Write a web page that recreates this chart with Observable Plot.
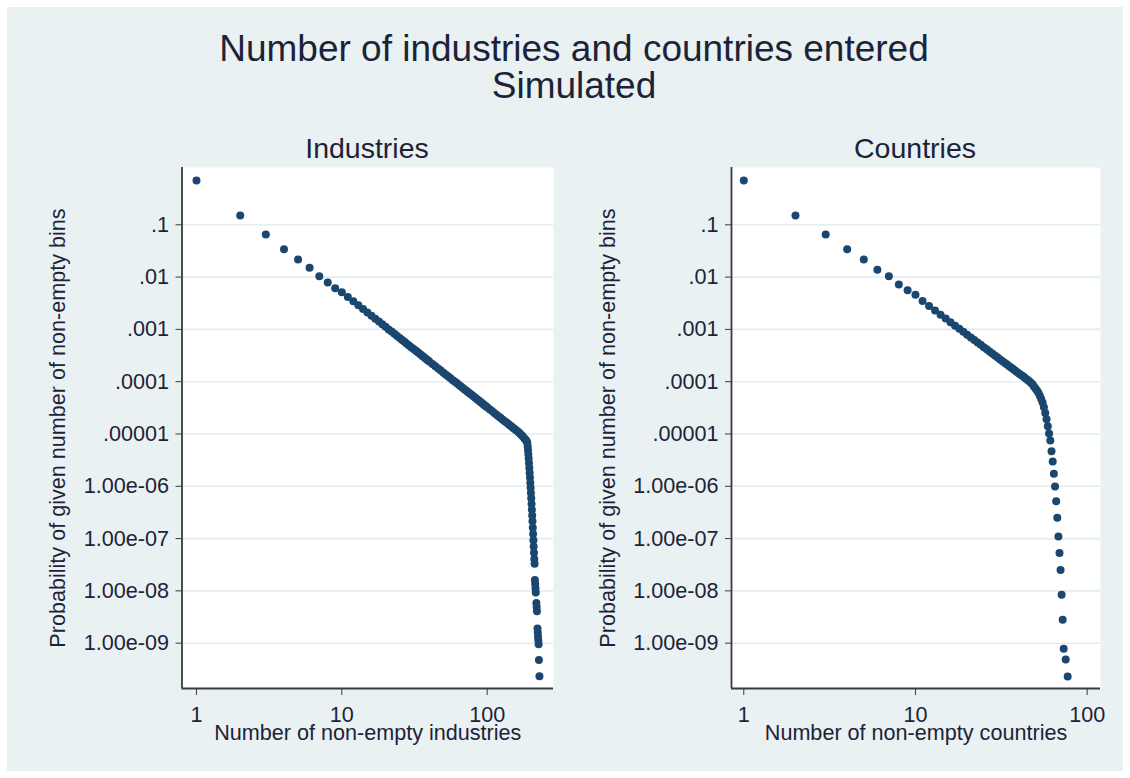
<!DOCTYPE html>
<html>
<head>
<meta charset="utf-8">
<script src="https://cdn.jsdelivr.net/npm/d3@7"></script>
<script src="https://cdn.jsdelivr.net/npm/@observablehq/plot@0.6"></script>
<style>
  html, body { margin: 0; padding: 0; background: #ffffff; }
  #chart { position: relative; width: 1130px; height: 778px; background: #ffffff;
           font-family: "Liberation Sans", Arial, sans-serif; color: #1d2337; overflow: hidden; }
  #region { position: absolute; left: 7px; top: 7px; width: 1116px; height: 764px; background: #e9f1f3; }
  .txt { position: absolute; white-space: nowrap; line-height: 1; transform: translateX(-50%); }
  .panel { position: absolute; top: 120px; }
</style>
</head>
<body>
<div id="chart">
  <div id="region"></div>
  <div class="txt" style="left:574px; top:30px; font-size:37px;">Number of industries and countries entered</div>
  <div class="txt" style="left:574px; top:67px; font-size:37px;">Simulated</div>
  <div class="txt" style="left:367px; top:134px; font-size:28.5px;">Industries</div>
  <div class="txt" style="left:915px; top:134px; font-size:28.5px;">Countries</div>
  <div class="panel" id="left" style="left:0px;"></div>
  <div class="panel" id="right" style="left:565px;"></div>
</div>
<script>
// Number of non-empty industries and its simulated probability
const industriesN = [
  1, 2, 3, 4, 5, 6, 7, 8, 9, 10, 11, 12, 13, 14, 15, 16, 17, 18, 19, 20,
  21, 22, 23, 24, 25, 26, 27, 28, 29, 30, 31, 32, 33, 34, 35, 36, 37, 38, 39, 40,
  42, 44, 46, 48, 50, 52, 54, 56, 58, 60, 62, 64, 66, 68, 70, 72, 74, 76, 78, 80,
  82, 84, 86, 88, 90, 92, 94, 96, 98, 100,
  104, 108, 112, 116, 120, 124, 128, 132, 136, 140, 144, 148, 152, 156, 160, 164,
  168, 172, 176, 180, 184, 187,
  189, 190, 191, 192, 193, 194, 195, 196, 197, 198, 199, 200, 201, 202, 203, 204,
  205, 206, 207, 208, 209, 210, 211, 212, 213, 214, 215, 216, 218, 219, 220,
  222, 223, 224, 225, 226, 227, 229
];
const industriesP = [
  0.70, 0.15, 0.065, 0.034, 0.0217, 0.0151, 0.0104, 0.0079, 0.0061, 5.14e-3,
  4.17e-3, 3.44e-3, 2.88e-3, 2.45e-3, 2.11e-3, 1.83e-3, 1.60e-3, 1.41e-3, 1.25e-3, 1.12e-3,
  1.00e-3, 9.08e-4, 8.22e-4, 7.50e-4, 6.85e-4, 6.28e-4, 5.78e-4, 5.33e-4, 4.94e-4, 4.58e-4,
  4.27e-4, 3.98e-4, 3.72e-4, 3.48e-4, 3.27e-4, 3.07e-4, 2.89e-4, 2.72e-4, 2.58e-4, 2.43e-4,
  2.19e-4, 1.97e-4, 1.79e-4, 1.63e-4, 1.49e-4, 1.36e-4, 1.26e-4, 1.16e-4, 1.07e-4, 9.98e-5,
  9.29e-5, 8.65e-5, 8.09e-5, 7.57e-5, 7.11e-5, 6.68e-5, 6.30e-5, 5.93e-5, 5.60e-5, 5.30e-5,
  5.02e-5, 4.76e-5, 4.52e-5, 4.30e-5, 4.09e-5, 3.90e-5, 3.72e-5, 3.55e-5, 3.39e-5, 3.24e-5,
  2.98e-5, 2.74e-5, 2.53e-5, 2.34e-5, 2.17e-5, 2.02e-5, 1.88e-5, 1.76e-5, 1.65e-5, 1.55e-5,
  1.45e-5, 1.37e-5, 1.29e-5, 1.22e-5, 1.15e-5, 1.09e-5,
  1.02e-5, 9.55e-6, 8.91e-6, 8.32e-6, 7.76e-6, 7.24e-6,
  6.76e-6, 5.75e-6, 4.90e-6, 4.07e-6, 3.39e-6, 2.75e-6, 2.24e-6, 1.82e-6, 1.48e-6, 1.17e-6,
  9.33e-7, 7.41e-7, 5.89e-7, 4.57e-7, 3.55e-7, 2.75e-7, 2.14e-7, 1.62e-7, 1.23e-7, 9.33e-8,
  7.08e-8, 5.37e-8, 4.07e-8, 3.31e-8, 1.62e-8, 1.35e-8, 1.12e-8, 9.33e-9, 5.89e-9, 4.90e-9,
  4.07e-9, 1.91e-9, 1.58e-9, 1.32e-9, 1.12e-9, 9.55e-10, 4.79e-10, 2.34e-10
];

// Number of non-empty countries and its simulated probability
const countriesN = [
  1, 2, 3, 4, 5, 6, 7, 8, 9, 10, 11, 12, 13, 14, 15, 16, 17, 18, 19, 20,
  21, 22, 23, 24, 25, 26, 27, 28, 29, 30, 31, 32, 33, 34, 35, 36, 37, 38, 39, 40,
  41, 42, 43, 44, 45, 46, 47, 48, 49, 50, 51, 52, 53, 54, 55, 56, 57, 58, 59, 60,
  61, 62, 63, 64, 65, 66, 67, 68, 69, 70, 71, 72, 73, 75, 77
];
const countriesP = [
  0.70, 0.15, 0.065, 0.034, 0.0217, 0.0138, 0.0104, 0.0072, 0.0056, 0.0046,
  0.0035, 2.79e-3, 2.29e-3, 1.91e-3, 1.61e-3, 1.37e-3, 1.18e-3, 1.03e-3, 9.0e-4, 7.93e-4,
  7.03e-4, 6.28e-4, 5.62e-4, 5.07e-4, 4.58e-4, 4.16e-4, 3.79e-4, 3.47e-4, 3.18e-4, 2.92e-4,
  2.70e-4, 2.49e-4, 2.31e-4, 2.15e-4, 2.00e-4, 1.87e-4, 1.75e-4, 1.64e-4, 1.53e-4, 1.44e-4,
  1.36e-4, 1.28e-4, 1.21e-4, 1.14e-4, 1.08e-4, 1.02e-4, 9.55e-5, 8.91e-5, 8.13e-5, 7.41e-5,
  6.76e-5, 6.17e-5, 5.37e-5, 4.68e-5, 3.98e-5, 3.24e-5, 2.51e-5, 1.91e-5, 1.41e-5, 1.02e-5,
  7.5e-6, 4.7e-6, 2.98e-6, 1.73e-6, 9.9e-7, 5.2e-7, 2.5e-7, 1.1e-7, 5.3e-8, 2.5e-8,
  8.4e-9, 2.8e-9, 7.8e-10, 4.9e-10, 2.3e-10
];

// Axis ticks and their printed labels
const yTicks = [1e-1, 1e-2, 1e-3, 1e-4, 1e-5, 1e-6, 1e-7, 1e-8, 1e-9];
const yTickLabels = [".1", ".01", ".001", ".0001", ".00001", "1.00e-06", "1.00e-07", "1.00e-08", "1.00e-09"];
const xTicks = [1, 10, 100];
const xTickLabels = ["1", "10", "100"];

const yLabel = "Probability of given number of non-empty bins";
const markerColor = "#1a476f";
const yDomain = [1.36e-10, 1.246];

function panel({n, p, xDomain, xLabel, marginLeft, marginRight}) {
  const rows = n.map((v, i) => ({n: v, p: p[i]}));
  return Plot.plot({
    width: 565,
    height: 658,
    marginTop: 47,
    marginBottom: 90,
    marginLeft,
    marginRight,
    style: {background: "transparent", overflow: "visible",
            fontFamily: "'Liberation Sans', Arial, sans-serif", color: "#1d2337"},
    x: {type: "log", domain: xDomain},
    y: {type: "log", domain: yDomain},
    marks: [
      Plot.frame({fill: "#ffffff", stroke: null}),
      Plot.gridY(yTicks, {stroke: "#e3ecef", strokeOpacity: 1, strokeWidth: 1.6}),
      Plot.ruleX([xDomain[0]], {stroke: "#3b3b3b", strokeWidth: 1.8}),
      Plot.ruleY([yDomain[0]], {stroke: "#3b3b3b", strokeWidth: 1.8}),
      Plot.axisY(yTicks, {
        tickFormat: (d) => yTickLabels[yTicks.indexOf(d)],
        tickSize: 6, tickPadding: 7, fontSize: 21.6, stroke: "#3b3b3b", fill: "#1d2337",
        label: yLabel, labelAnchor: "center", labelArrow: "none", labelOffset: 132
      }),
      Plot.axisX(xTicks, {
        tickFormat: (d) => xTickLabels[xTicks.indexOf(d)],
        tickSize: 7, tickPadding: 11, fontSize: 21.6, stroke: "#3b3b3b", fill: "#1d2337",
        label: xLabel, labelAnchor: "center", labelArrow: "none", labelOffset: 51
      }),
      Plot.dot(rows, {x: "n", y: "p", r: 4, fill: markerColor})
    ]
  });
}

document.getElementById("left").append(panel({
  n: industriesN, p: industriesP, xDomain: [0.795, 286],
  xLabel: "Number of non-empty industries", marginLeft: 181.5, marginRight: 12
}));
document.getElementById("right").append(panel({
  n: countriesN, p: countriesP, xDomain: [0.848, 119.6],
  xLabel: "Number of non-empty countries", marginLeft: 166, marginRight: 30
}));
</script>
</body>
</html>
